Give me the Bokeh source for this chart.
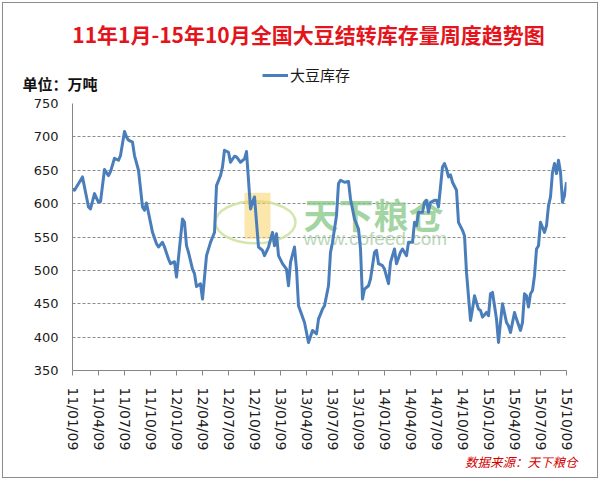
from bokeh.plotting import figure
from bokeh.layouts import column
from bokeh.models import Range1d, FixedTicker, Label, Legend, LegendItem, Title
from bokeh.core.properties import value
from bokeh.embed import file_html
from bokeh.resources import INLINE

# week index since 2011-01-09 and soybean stock (10k tonnes)
weeks = [0, 1, 5, 8, 9, 11, 13, 14, 16, 18, 19, 21, 23, 24, 26, 27, 28, 30, 31, 33,
         35, 36, 37, 40, 42, 43, 45, 46, 48, 49, 51, 52, 55, 56, 57, 58, 60, 61, 62, 64,
         65, 67, 69, 71, 72, 74, 75, 76, 78, 79, 81, 82, 84, 86, 87, 89, 90, 91, 93, 95,
         96, 98, 100, 101, 102, 103, 105, 107, 108, 109, 111, 112, 113, 116, 118, 120, 122, 123, 125, 126,
         128, 129, 130, 132, 133, 134, 136, 138, 139, 141, 143, 144, 145, 146, 148, 149, 151, 152, 153, 155,
         156, 158, 159, 161, 162, 164, 165, 167, 168, 170, 171, 172, 173, 175, 176, 177, 178, 179, 181, 182,
         183, 185, 186, 187, 188, 189, 190, 192, 193, 195, 196, 197, 199, 200, 201, 203, 204, 205, 207, 208,
         209, 210, 211, 212, 213, 214, 215, 217, 218, 219, 220, 221, 222, 224, 225, 226, 227, 228, 229, 230,
         231, 232, 233, 234, 236, 237, 238, 239, 240, 241, 242, 243, 244, 245, 246, 247]
stock = [622, 620, 640, 595, 592, 615, 602, 603, 651, 642, 648, 668, 665, 672, 708, 700, 695, 692, 672, 650,
         595, 590, 601, 557, 540, 535, 542, 535, 517, 510, 513, 490, 577, 572, 537, 527, 502, 495, 476, 480,
         457, 522, 542, 557, 627, 642, 655, 680, 677, 662, 671, 670, 662, 667, 678, 592, 602, 610, 535, 530,
         522, 535, 557, 537, 555, 522, 510, 502, 477, 512, 535, 502, 447, 422, 392, 410, 405, 427, 442, 447,
         477, 527, 542, 582, 630, 635, 632, 633, 607, 577, 562, 532, 457, 472, 477, 487, 527, 530, 510, 507,
         502, 480, 512, 532, 510, 527, 532, 522, 542, 542, 572, 567, 587, 587, 602, 605, 587, 602, 605, 605,
         595, 655, 660, 652, 640, 643, 632, 620, 572, 560, 552, 497, 425, 442, 462, 442, 440, 430, 437, 432,
         465, 467, 447, 427, 392, 422, 450, 422, 417, 407, 422, 437, 427, 410, 422, 465, 462, 445, 465, 470,
         492, 532, 537, 572, 557, 567, 597, 610, 647, 660, 645, 665, 647, 602, 612, 632]

tick_weeks = list(range(0, 248, 13))
tick_labels = ["11/01/09", "11/04/09", "11/07/09", "11/10/09", "12/01/09", "12/04/09",
               "12/07/09", "12/10/09", "13/01/09", "13/04/09", "13/07/09", "13/10/09",
               "14/01/09", "14/04/09", "14/07/09", "14/10/09", "15/01/09", "15/04/09",
               "15/07/09", "15/10/09"]
y_ticks = [350, 400, 450, 500, 550, 600, 650, 700, 750]

title_text = "11年1月-15年10月全国大豆结转库存量周度趋势图"
unit_text = "单位：万吨"
series_name = "大豆库存"
source_text = "数据来源：天下粮仓"

CJK = "Noto Sans CJK SC"
NUM = "DejaVu Sans"
LINE_COLOR = "#4A7EBB"

# ---------- header strip (title, unit, legend) ----------
TOP_H = 94
head = figure(width=600, height=TOP_H, output_backend="svg", toolbar_location=None, title=None,
              x_range=Range1d(0, 600), y_range=Range1d(TOP_H, 0),
              x_axis_location=None, y_axis_location=None, min_border=0)
head.grid.visible = False
head.outline_line_color = None
head.background_fill_color = None
head.border_fill_color = None

head.add_layout(Label(x=308, y=33, text=title_text, text_font=CJK, text_font_size="21px",
                      text_font_style="bold", text_color="#E3141B",
                      text_align="center", text_baseline="middle"))
head.add_layout(Label(x=22, y=83, text=unit_text, text_font=CJK, text_font_size="15px",
                      text_font_style="bold", text_color="#111111",
                      text_align="left", text_baseline="middle"))
# legend key proxy (single point lying outside the header view, so only the key is seen)
proxy = head.line(x=[-50], y=[-50], line_color=LINE_COLOR, line_width=3)
head.add_layout(Legend(items=[LegendItem(label=value(series_name), renderers=[proxy])],
                       location=(262, 9), orientation="horizontal",
                       border_line_color=None, background_fill_alpha=0,
                       padding=0, margin=0, spacing=0, glyph_width=26, glyph_height=20,
                       label_standoff=2, label_text_font=CJK, label_text_font_size="15px",
                       label_text_color="#1a1a1a", label_height=20))

# ---------- main chart ----------
p = figure(width=600, height=480 - TOP_H, output_backend="svg", toolbar_location=None, title=None,
           x_range=Range1d(0, 247), y_range=Range1d(350, 750),
           min_border_left=72, min_border_right=34, min_border_top=9, min_border_bottom=110)
p.outline_line_color = None
p.background_fill_color = None
p.border_fill_color = None

for f in (head, p):
    try:
        f.frame_align = False
    except Exception:
        pass

p.xaxis.ticker = FixedTicker(ticks=tick_weeks)
p.xaxis.major_label_overrides = {w: s for w, s in zip(tick_weeks, tick_labels)}
p.xaxis.major_label_orientation = "vertical"
p.xaxis.major_label_text_font = NUM
p.xaxis.major_label_text_font_size = "14px"
p.xaxis.major_label_text_color = "#1a1a1a"
p.xaxis.major_label_standoff = 12
p.xaxis.major_tick_out = 5
p.xaxis.major_tick_in = 0
p.xaxis.minor_tick_line_color = None
p.xaxis.axis_line_color = "#868686"
p.xaxis.major_tick_line_color = "#868686"

p.yaxis.ticker = FixedTicker(ticks=y_ticks)
p.yaxis.major_label_text_font = NUM
p.yaxis.major_label_text_font_size = "13px"
p.yaxis.major_label_text_color = "#1a1a1a"
p.yaxis.major_label_standoff = 14
p.yaxis.major_tick_out = 0
p.yaxis.major_tick_in = 0
p.yaxis.minor_tick_line_color = None
p.yaxis.axis_line_color = "#868686"

p.xgrid.grid_line_color = None
p.ygrid.grid_line_color = "#8c8c8c"
p.ygrid.grid_line_dash = "3 2"
p.ygrid.grid_line_width = 1

# watermark (behind the data line)
p.ellipse(x=91.5, y=572, width=80, height=42, width_units="screen", height_units="screen",
          fill_color=None, line_color="#CFE2A4", line_width=2.5, line_alpha=0.9)
p.rect(x=92.5, y=582, width=26, height=46, width_units="screen", height_units="screen",
       fill_color="#F7CD5A", fill_alpha=0.5, line_color=None)
p.add_layout(Label(x=231, y=157, x_units="screen", y_units="screen", text="天下粮仓",
                   text_font=CJK, text_font_size="35px", text_font_style="bold",
                   text_color="#84C784", text_alpha=0.75, text_baseline="middle",
                   text_align="left", level="underlay"))
p.add_layout(Label(x=231, y=132, x_units="screen", y_units="screen", text="www.cofeed.com",
                   text_font="Liberation Sans", text_font_size="19px",
                   text_color="#A2CBA2", text_alpha=0.75, text_baseline="middle",
                   text_align="left", level="underlay"))

# data line
p.line(weeks, stock, line_color=LINE_COLOR, line_width=3, line_join="round")

# source note below the axis
src = Title(text=source_text, align="right", offset=-11, standoff=2,
            text_font=CJK, text_font_size="12.5px", text_font_style="italic",
            text_color="#D40000")
try:
    src.standoff = -8
except Exception:
    src.standoff = 0
p.add_layout(src, "below")

layout = column(head, p, spacing=0)
layout.styles = {"outline": "1px solid #8c8c8c", "outline-offset": "-3px"}

open("out.html", "w").write(file_html(layout, INLINE))
